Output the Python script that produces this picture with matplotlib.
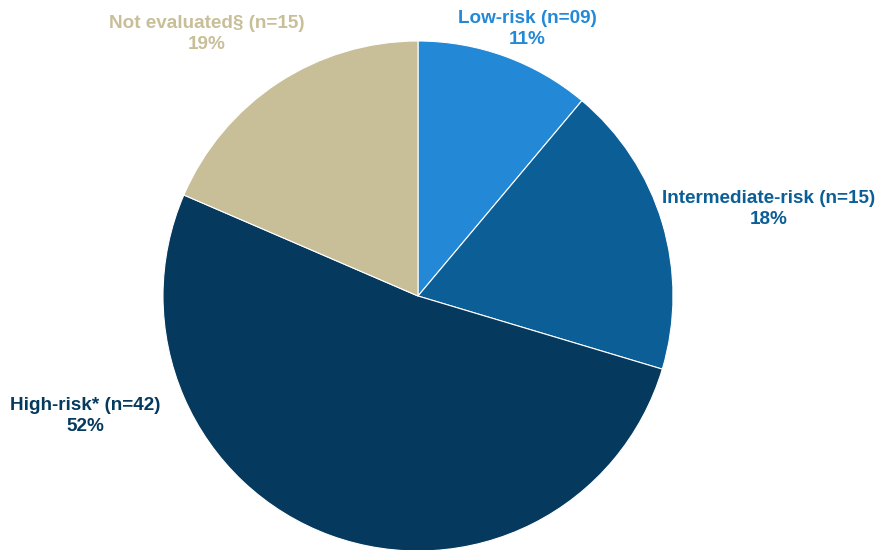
import matplotlib.pyplot as plt

plt.rcParams['font.family'] = ['Liberation Sans', 'DejaVu Sans']

categories = ['Low-risk', 'Intermediate-risk', 'High-risk*', 'Not evaluated\u00a7']
counts = [9, 15, 42, 15]
count_labels = ['09', '15', '42', '15']
percents = ['11%', '18%', '52%', '19%']
colors = ['#2389d7', '#0b5e96', '#053a5e', '#c8bf99']

# label centres in pixel coords (x, y from top)
label_pos = [(527, 29), (769, 209), (85, 416), (207, 34)]

fig = plt.figure(figsize=(8.78, 5.5), dpi=100)
ax = fig.add_axes([0, 0, 1, 1])

wedges, _ = ax.pie(counts, colors=colors, startangle=90, counterclock=False,
                   center=(418, 550 - 296), radius=255, frame=True,
                   wedgeprops=dict(edgecolor='white', linewidth=0.8))
ax.set_xlim(0, 878)
ax.set_ylim(0, 550)
ax.set_aspect('equal')
ax.axis('off')

for i in range(len(categories)):
    x, y = label_pos[i]
    ax.text(x, 550 - y, categories[i] + ' (n=' + count_labels[i] + ')\n' + percents[i],
            ha='center', va='center', fontsize=13.6, fontweight='bold',
            color=colors[i], linespacing=1.3)

fig.savefig('out.png', dpi=100)
